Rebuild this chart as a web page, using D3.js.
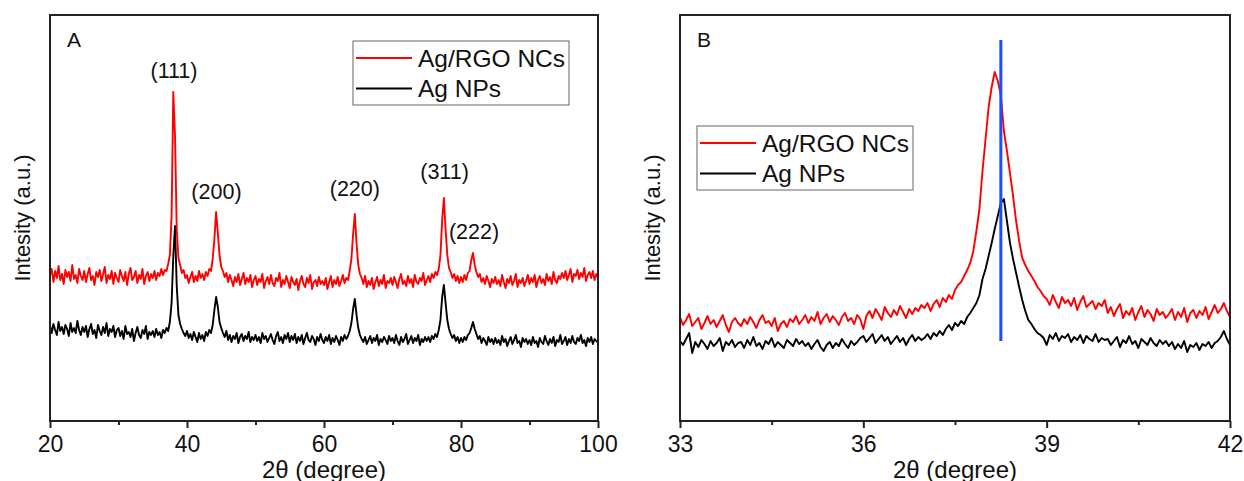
<!DOCTYPE html>
<html>
<head>
<meta charset="utf-8">
<script src="https://cdn.jsdelivr.net/npm/d3@7"></script>
<style>
  body { margin: 0; background: #fff; }
  svg { display: block; font-family: "Liberation Sans", Arial, sans-serif; }
</style>
</head>
<body>
<svg id="chart" width="1244" height="481"></svg>
<script>
// ---- data ----
// panel A: 2theta from 20 to 100, step 0.25
const stepA = 0.25;
const agRgoA = [
  146,152,139,150,143,155,141,147,137,151,144,149,140,156,142,146,138,152,145,141,
  150,139,147,153,141,145,136,149,144,151,140,147,154,138,146,142,150,137,148,143,
  139,151,145,140,149,136,147,153,141,144,150,138,146,142,152,137,145,149,140,147,
  143,150,141,148,145,152,146,151,150,157,166,205,329,285,192,163,156,148,151,143,
  146,138,144,149,139,145,140,150,143,147,141,149,145,152,150,162,182,209,188,166,
  154,150,144,148,139,146,141,135,144,139,147,136,142,148,137,143,139,146,134,141,
  145,136,142,139,147,133,140,144,137,146,138,135,143,140,148,134,141,137,145,139,
  133,144,139,136,142,131,140,145,137,134,143,138,146,132,139,141,135,144,137,140,
  136,143,132,139,145,134,141,137,144,135,140,146,138,143,141,150,162,187,207,178,
  156,147,143,137,145,134,140,136,143,132,139,144,135,141,137,146,133,140,138,143,
  136,144,139,133,142,147,137,140,135,145,138,142,134,146,139,137,143,140,148,136,
  141,145,139,147,143,149,146,152,166,201,223,192,166,153,149,143,147,140,145,138,
  144,139,146,141,148,150,161,168,156,149,144,147,139,143,137,145,140,134,142,138,
  144,137,141,135,146,139,133,142,138,145,136,140,147,134,141,138,143,135,140,146,
  137,143,139,146,134,141,145,138,142,136,147,140,144,137,149,141,138,145,142,148,
  143,150,141,146,152,139,147,145,151,142,148,144,153,140,146,149,143,150,141,147,143
];
const agNpA = [
  95,88,97,91,86,99,90,94,87,96,92,85,98,89,93,88,100,91,86,94,
  89,95,84,92,97,87,91,83,96,90,86,94,88,98,85,92,89,95,84,91,
  93,85,90,82,95,87,89,84,92,80,88,94,86,83,91,87,95,82,89,86,
  90,84,92,86,89,83,91,88,93,90,99,118,165,195,135,106,97,92,88,85,
  90,83,87,81,89,84,79,88,82,86,80,89,85,91,88,96,111,124,114,99,
  93,88,84,90,81,86,79,85,82,88,78,84,87,80,85,82,89,79,84,81,
  86,80,84,78,88,82,85,79,83,87,81,77,85,89,80,84,78,86,82,88,
  79,85,81,87,78,84,80,86,77,83,88,81,79,85,82,76,84,80,87,81,
  78,84,80,86,77,83,79,85,81,76,84,80,86,82,85,90,98,112,122,106,
  93,86,82,79,84,77,81,85,78,83,80,86,76,82,79,84,81,77,85,80,
  83,78,86,80,76,84,79,82,87,77,81,85,78,83,80,86,76,82,79,84,
  80,84,79,85,82,87,84,91,101,124,136,118,101,92,87,83,86,80,84,78,
  83,79,84,81,86,88,93,99,92,87,82,85,78,83,80,76,84,79,82,77,
  83,78,81,76,85,79,82,75,80,84,77,81,86,78,80,74,83,79,82,77,
  81,76,84,78,80,74,83,79,77,85,80,76,82,78,84,75,81,79,86,77,
  80,84,76,82,78,85,79,77,83,80,86,78,81,75,83,79,84,77,82,80,78
];
const peakLabels = ["(111)", "(200)", "(220)", "(311)", "(222)"];
const peakPos = [38.1, 44.3, 64.5, 77.6, 81.9];
const peakLabelY = [343, 222, 225, 242, 182];

// panel B: 2theta from 33 to 42, step 0.05
const stepB = 0.05;
const agRgoB = [
  104,96,101,107,95,99,103,92,98,105,97,101,94,100,106,96,89,99,103,98,
  95,102,97,104,99,93,101,106,98,100,95,103,90,97,100,94,102,99,105,97,
  101,106,98,104,100,109,97,103,107,99,105,101,96,104,108,100,103,97,106,102,
  92,105,110,103,112,107,101,114,108,104,111,106,115,109,103,112,107,113,110,116,
  113,118,110,117,121,114,123,119,126,122,131,136,139,145,151,158,170,190,212,250,
  282,314,334,349,340,326,290,270,248,225,200,180,163,156,150,145,140,134,130,125,
  122,116,126,119,113,124,118,121,115,123,111,119,125,114,117,120,112,118,115,121,
  108,114,105,112,117,103,110,106,113,101,109,115,104,111,107,100,112,106,109,103,
  107,112,101,109,104,113,99,108,111,103,110,106,114,102,109,116,108,112,118,110,
  104
];
const agNpB = [
  80,76,82,88,68,79,74,81,77,72,80,75,78,83,70,79,76,81,74,78,
  79,73,81,76,84,75,78,72,80,77,83,74,79,76,73,81,78,75,82,77,
  80,75,78,72,77,81,74,70,76,79,73,78,75,82,77,73,80,76,79,83,
  85,79,83,87,78,82,86,80,84,77,81,85,79,83,76,82,86,80,84,81,
  83,87,82,88,85,90,86,92,96,91,98,95,100,97,104,108,113,118,126,142,
  152,165,178,192,205,218,222,200,178,162,148,134,121,110,101,97,92,88,86,83,
  76,86,82,88,80,85,83,87,79,84,81,86,78,85,82,80,87,79,83,81,
  82,76,80,84,74,81,78,85,77,80,73,82,79,76,83,78,75,81,77,80,
  75,79,72,77,73,80,69,76,74,78,71,77,75,79,73,78,80,84,90,82,
  76
];
const refLine = 38.25; // blue marker in panel B

const seriesNames = ["Ag/RGO NCs", "Ag NPs"];
const seriesColors = ["#ff0000", "#000000"];

const ticksA = [20, 40, 60, 80, 100];
const minorA = [30, 50, 70, 90];
const ticksB = [33, 36, 39, 42];
const minorB = [34.5, 37.5, 40.5];

const svg = d3.select("#chart");

function toPoints(vals, start, step) {
  return vals.map((v, i) => [start + i * step, v]);
}

function drawPanel(opt) {
  const x = d3.scaleLinear().domain(opt.xDomain).range([opt.left, opt.right]);
  const y = d3.scaleLinear().domain([0, 406]).range([421, 15]);
  const g = svg.append("g");

  const line = d3.line()
    .x((d) => x(d[0]))
    .y((d) => y(d[1]));

  // spectra (black first so red sits on top where they cross)
  [1, 0].forEach((k) => {
    g.append("path")
      .datum(toPoints(opt.series[k], opt.xDomain[0], opt.step))
      .attr("fill", "none")
      .attr("stroke", seriesColors[k])
      .attr("stroke-width", 1.9)
      .attr("stroke-linejoin", "round")
      .attr("d", line);
  });

  // frame
  g.append("rect")
    .attr("x", opt.left)
    .attr("y", y(406))
    .attr("width", opt.right - opt.left)
    .attr("height", y(0) - y(406))
    .attr("fill", "none")
    .attr("stroke", "#222")
    .attr("stroke-width", 2);

  // x axis: major + minor ticks
  const ax = g.append("g")
    .attr("transform", `translate(0,${y(0)})`)
    .call(d3.axisBottom(x).tickValues(opt.ticks).tickSize(7).tickPadding(8).tickFormat(d3.format("d")));
  ax.select(".domain").remove();
  ax.selectAll(".tick line").attr("stroke", "#222").attr("stroke-width", 2);
  ax.selectAll(".tick text")
    .attr("fill", "#111")
    .attr("font-size", "23px")
    .attr("font-family", "Liberation Sans, Arial, sans-serif");

  const mx = g.append("g")
    .attr("transform", `translate(0,${y(0)})`)
    .call(d3.axisBottom(x).tickValues(opt.minor).tickSize(4).tickFormat(""));
  mx.select(".domain").remove();
  mx.selectAll(".tick line").attr("stroke", "#222").attr("stroke-width", 2);

  // axis titles
  g.append("text")
    .attr("x", (opt.left + opt.right) / 2)
    .attr("y", 478)
    .attr("text-anchor", "middle")
    .attr("font-size", "24px")
    .attr("fill", "#111")
    .text("2\u03b8 (degree)");

  g.append("text")
    .attr("transform", `translate(${opt.left - 20},${(y(0) + y(406)) / 2}) rotate(-90)`)
    .attr("text-anchor", "middle")
    .attr("font-size", "22px")
    .attr("fill", "#111")
    .text("Intesity (a.u.)");

  // panel letter
  g.append("text")
    .attr("x", opt.left + 17)
    .attr("y", 47)
    .attr("font-size", "21px")
    .attr("fill", "#111")
    .text(opt.letter);

  // legend
  const lg = g.append("g");
  lg.append("rect")
    .attr("x", opt.legend.x)
    .attr("y", opt.legend.y)
    .attr("width", 216)
    .attr("height", 64)
    .attr("fill", "#fff")
    .attr("stroke", "#666")
    .attr("stroke-width", 1);
  seriesNames.forEach((name, i) => {
    const ly = opt.legend.y + 17 + i * 30.5;
    lg.append("line")
      .attr("x1", opt.legend.x + 3)
      .attr("x2", opt.legend.x + 59)
      .attr("y1", ly)
      .attr("y2", ly)
      .attr("stroke", seriesColors[i])
      .attr("stroke-width", 2);
    lg.append("text")
      .attr("x", opt.legend.x + 65)
      .attr("y", ly + 8.5)
      .attr("font-size", "24.5px")
      .attr("fill", "#111")
      .text(name);
  });

  return { g, x, y };
}

// Panel A
const A = drawPanel({
  left: 50, right: 598, xDomain: [20, 100], step: stepA,
  series: [agRgoA, agNpA], ticks: ticksA, minor: minorA,
  letter: "A", legend: { x: 353, y: 41 },
});

A.g.selectAll(".peak")
  .data(peakLabels)
  .join("text")
  .attr("class", "peak")
  .attr("x", (d, i) => A.x(peakPos[i]))
  .attr("y", (d, i) => A.y(peakLabelY[i]))
  .attr("text-anchor", "middle")
  .attr("font-size", "21.5px")
  .attr("fill", "#111")
  .text((d) => d);

// Panel B
const B = drawPanel({
  left: 680, right: 1230, xDomain: [33, 42], step: stepB,
  series: [agRgoB, agNpB], ticks: ticksB, minor: minorB,
  letter: "B", legend: { x: 697, y: 126 },
});

B.g.append("line")
  .attr("x1", B.x(refLine))
  .attr("x2", B.x(refLine))
  .attr("y1", B.y(381))
  .attr("y2", B.y(80))
  .attr("stroke", "#1a4dff")
  .attr("stroke-width", 3);
</script>
</body>
</html>
